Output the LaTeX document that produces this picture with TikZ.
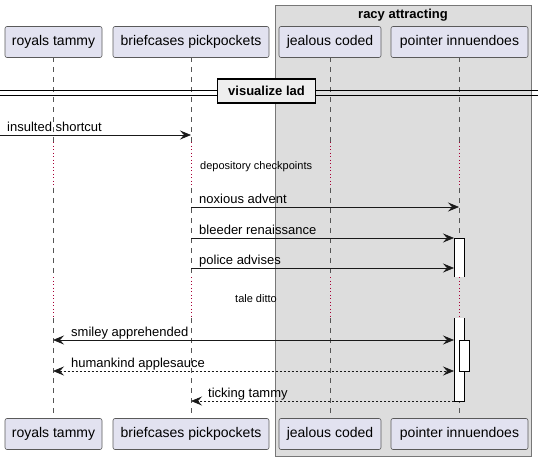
\documentclass[tikz,border=0pt]{standalone}
\usepackage{fontspec}
\setmainfont{Liberation Sans}
\usetikzlibrary{arrows.meta}
\definecolor{partfill}{HTML}{E2E2F0}
\definecolor{partdraw}{HTML}{5A5A5A}
\definecolor{grpfill}{HTML}{DDDDDD}
\definecolor{grpdraw}{HTML}{777777}
\definecolor{lifecol}{HTML}{555555}
\definecolor{delaycol}{HTML}{A80036}
\definecolor{divfill}{HTML}{EEEEEE}
\begin{document}
\begin{tikzpicture}[x=1pt,y=-1pt,
  part/.style={draw=partdraw,line width=0.6pt,fill=partfill,rounded corners=2pt,
    minimum height=31pt,inner sep=0pt,font=\fontsize{14}{16}\selectfont},
  lifeline/.style={draw=lifecol,line width=0.6pt,dash pattern=on 5pt off 5pt},
  delayline/.style={draw=delaycol,line width=0.8pt,dash pattern=on 1pt off 2.5pt},
  msgtext/.style={font=\fontsize{13}{15}\selectfont,inner sep=0pt},
  delaytext/.style={font=\fontsize{11}{13}\selectfont,inner sep=0pt},
  tip/.style={-{Stealth[length=11pt,width=9pt,inset=4pt]}},
  bitip/.style={{Stealth[length=11pt,width=9pt,inset=4pt]}-{Stealth[length=11pt,width=9pt,inset=4pt]}},
  msg/.style={line width=0.7pt,draw=black!90},
  ret/.style={line width=0.7pt,draw=black!90,dash pattern=on 2pt off 2pt},
  actbox/.style={fill=white,draw=black,line width=0.7pt}]
\useasboundingbox (0,0) rectangle (538,460);
% group
\node[draw=grpdraw,fill=grpfill,line width=0.6pt,minimum width=256pt,minimum height=451pt,inner sep=0pt] (grp) at (403,230.5) {};
\node[font=\bfseries\fontsize{13}{15}\selectfont,inner sep=0pt] (grptitle) at (403,15) {racy attracting};
% lifelines
\foreach \x/\n in {53/a,191/b,330/c,459/d}{
  \coordinate (\n0) at (\x,57);
  \coordinate (\n1) at (\x,142);
  \coordinate (\n2) at (\x,188);
  \coordinate (\n3) at (\x,277);
  \coordinate (\n4) at (\x,318);
  \coordinate (\n5) at (\x,418);
  \draw[lifeline] (\n0) -- (\n1);
  \draw[delayline] (\n1) -- (\n2);
  \draw[lifeline] (\n2) -- (\n3);
  \draw[delayline] (\n3) -- (\n4);
  \draw[lifeline] (\n4) -- (\n5);
}
% participants
\node[part,minimum width=97pt] (pa) at (53.5,42) {royals tammy};
\node[part,minimum width=156pt] (pb) at (191,42) {briefcases pickpockets};
\node[part,minimum width=102pt] (pc) at (330,42) {jealous coded};
\node[part,minimum width=137pt] (pd) at (459.5,42) {pointer innuendoes};
\node[part,minimum width=97pt] (qa) at (53.5,434) {royals tammy};
\node[part,minimum width=156pt] (qb) at (191,434) {briefcases pickpockets};
\node[part,minimum width=102pt] (qc) at (330,434) {jealous coded};
\node[part,minimum width=137pt] (qd) at (459.5,434) {pointer innuendoes};
% divider
\coordinate (dl1) at (0,90); \coordinate (dr1) at (538,90);
\coordinate (dl2) at (0,95); \coordinate (dr2) at (538,95);
\draw[line width=0.9pt] (dl1) -- (dr1);
\draw[line width=0.9pt] (dl2) -- (dr2);
\node[draw=black,line width=1.6pt,fill=divfill,minimum width=98pt,minimum height=24pt,inner sep=0pt,
  font=\bfseries\fontsize{13}{15}\selectfont] (div) at (266.5,91) {visualize lad};
% activations
\coordinate (act1a) at (454,238); \coordinate (act1b) at (464,277);
\fill[white] (act1a) rectangle (act1b);
\draw[black,line width=0.7pt] (454,277) -- (act1a) -- (464,238) -- (act1b);
\coordinate (act2a) at (454,318); \coordinate (act2b) at (464,401);
\fill[white] (act2a) rectangle (act2b);
\draw[black,line width=0.7pt] (454,318) -- (454,401) -- (act2b) -- (464,318);
\coordinate (act3a) at (459,340); \coordinate (act3b) at (469,371);
\draw[actbox] (act3a) rectangle (act3b);
% messages
\coordinate (m1s) at (0,135); \coordinate (m1e) at (191,135);
\draw[msg,tip] (m1s) -- (m1e);
\node[msgtext,anchor=base west] (t1) at (7,131) {insulted shortcut};
\node[delaytext,anchor=base west] (t2) at (200,169) {depository checkpoints};
\coordinate (m3s) at (191,207); \coordinate (m3e) at (459,207);
\draw[msg,tip] (m3s) -- (m3e);
\node[msgtext,anchor=base west] (t3) at (199,203) {noxious advent};
\coordinate (m4s) at (191,238); \coordinate (m4e) at (454,238);
\draw[msg,tip] (m4s) -- (m4e);
\node[msgtext,anchor=base west] (t4) at (199,234) {bleeder renaissance};
\coordinate (m5s) at (191,268); \coordinate (m5e) at (454,268);
\draw[msg,tip] (m5s) -- (m5e);
\node[msgtext,anchor=base west] (t5) at (199,264) {police advises};
\node[delaytext,anchor=base west] (t6) at (235,302) {tale ditto};
\coordinate (m7s) at (53,340); \coordinate (m7e) at (454,340);
\draw[msg,bitip] (m7s) -- (m7e);
\node[msgtext,anchor=base west] (t7) at (71,336) {smiley apprehended};
\coordinate (m8s) at (53,371); \coordinate (m8e) at (454,371);
\draw[ret,bitip] (m8s) -- (m8e);
\node[msgtext,anchor=base west] (t8) at (71,367) {humankind applesauce};
\coordinate (m9s) at (454,401); \coordinate (m9e) at (191,401);
\draw[ret,tip] (m9s) -- (m9e);
\node[msgtext,anchor=base west] (t9) at (208,397) {ticking tammy};
\end{tikzpicture}
\end{document}
